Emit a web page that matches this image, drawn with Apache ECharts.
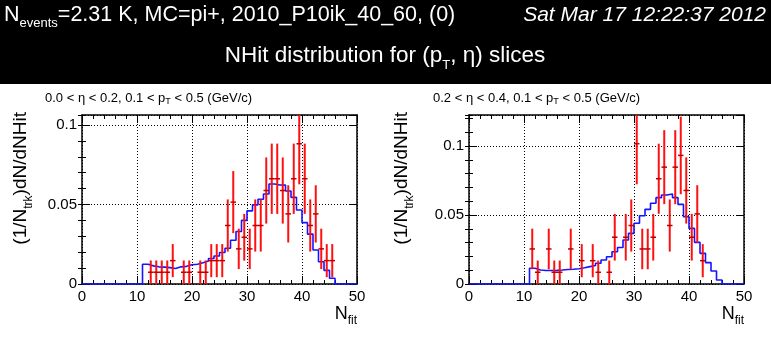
<!DOCTYPE html>
<html>
<head>
<meta charset="utf-8">
<script src="https://cdn.jsdelivr.net/npm/echarts@6/dist/echarts.min.js"></script>
<style>
  html, body { margin: 0; padding: 0; background: #fff; }
  #chart { width: 771px; height: 344px; }
</style>
</head>
<body>
<div id="chart"></div>
<script>
// N_fit bin edges (1 hit per bin)
const nfitEdges = [0,1,2,3,4,5,6,7,8,9,10,11,12,13,14,15,16,17,18,19,20,21,22,23,24,25,
  26,27,28,29,30,31,32,33,34,35,36,37,38,39,40,41,42,43,44,45,46,47,48,49,50];

// MC reference histograms, one value per bin (0..49)
const mcLeft = [0,0,0,0,0,0,0,0,0,0,0,
  0.0124,0.0114,0.0108,0.0106,0.0103,0.0098,0.0108,0.0111,0.0121,0.0124,
  0.0134,0.0145,0.0160,0.0176,0.0198,0.0225,0.0275,0.0330,0.0400,0.0460,
  0.0498,0.0533,0.0566,0.0629,0.0623,0.0622,0.0585,0.0545,0.0465,0.0386,
  0.0314,0.0214,0.0140,0.0086,0.0036,0,0,0,0];
const mcRight = [0,0,0,0,0,0,0,0,0,0,0,
  0.0114,0.0101,0.0098,0.0098,0.0099,0.0101,0.0105,0.0107,0.0111,0.0118,
  0.0126,0.0134,0.0150,0.0174,0.0198,0.0234,0.0265,0.0319,0.0367,0.0440,
  0.0495,0.0541,0.0585,0.0626,0.0645,0.0652,0.0626,0.0577,0.0488,0.0403,
  0.0302,0.0222,0.0155,0.0094,0.0029,0,0,0,0];

// Data points: bin index, normalised value, statistical error
const dataLeftBin = [12,13,14,15,16,18,19,21,22,23,24,25,26,27,28,29,30,31,32,33,34,35,36,37,38,39,40,41,42,43,44,45];
const dataLeftVal = [0.0074,0.0074,0.0074,0.0074,0.0147,0.0074,0.0074,0.0074,0.0074,0.0147,0.0147,0.0147,
  0.0368,0.0515,0.0221,0.0294,0.0221,0.0368,0.0368,0.0588,0.0662,0.0662,0.0588,0.0441,0.0662,0.0882,
  0.0662,0.0368,0.0441,0.0221,0.0147,0.0147];
const dataLeftErr = [0.0074,0.0074,0.0074,0.0074,0.0104,0.0074,0.0074,0.0074,0.0074,0.0104,0.0104,0.0104,
  0.0164,0.0195,0.0127,0.0147,0.0127,0.0164,0.0164,0.0208,0.0221,0.0221,0.0208,0.0180,0.0221,0.0255,
  0.0221,0.0164,0.0180,0.0127,0.0104,0.0104];

const dataRightBin = [11,12,14,15,16,18,20,22,23,25,26,28,29,30,31,32,33,34,35,36,37,38,39,40,41,42];
const dataRightVal = [0.0254,0.0085,0.0254,0.0085,0.0085,0.0254,0.0169,0.0169,0.0085,0.0085,0.0339,0.0339,
  0.0424,0.1017,0.0254,0.0254,0.0339,0.0763,0.0847,0.0424,0.0847,0.0932,0.0678,0.0339,0.0508,0.0169];
const dataRightErr = [0.0147,0.0085,0.0147,0.0085,0.0085,0.0147,0.0120,0.0120,0.0085,0.0085,0.0169,0.0169,
  0.0189,0.0294,0.0147,0.0147,0.0169,0.0254,0.0268,0.0189,0.0268,0.0281,0.0240,0.0169,0.0208,0.0120];

// Axis ranges
const xRange = [0, 50];
const yMaxLeft = 0.1063;
const yMaxRight = 0.1225;

const FONT = '"Liberation Sans", Arial, Helvetica, sans-serif';

const chart = echarts.init(document.getElementById('chart'), null, { renderer: 'canvas' });

const panels = [
  { left: 82, top: 115, width: 275, height: 169, ymax: yMaxLeft, mc: mcLeft,
    bins: dataLeftBin, vals: dataLeftVal, errs: dataLeftErr },
  { left: 469, top: 115, width: 275, height: 169, ymax: yMaxRight, mc: mcRight,
    bins: dataRightBin, vals: dataRightVal, errs: dataRightErr }
];

const grids = [], xAxes = [], yAxes = [], series = [];
const black = '#000';

panels.forEach((p, gi) => {
  grids.push({ left: p.left, top: p.top, width: p.width, height: p.height, show: false });

  const frameLine = { show: true, onZero: false, lineStyle: { color: black, width: 1.5 } };
  const xBase = { gridIndex: gi, type: 'value', min: xRange[0], max: xRange[1], interval: 10 };
  const xMain = xAxes.length;
  xAxes.push(Object.assign({}, xBase, {
    position: 'bottom', axisLine: frameLine,
    axisTick: { inside: true, length: 8, lineStyle: { color: black, width: 1 } },
    minorTick: { show: true, splitNumber: 5, length: 4, lineStyle: { color: black, width: 1 } },
    axisLabel: { color: black, fontSize: 15, fontFamily: FONT, margin: 5 },
    splitLine: { show: true, lineStyle: { color: black, width: 1, type: [1, 2] } }
  }));
  xAxes.push(Object.assign({}, xBase, {
    position: 'top', axisLine: frameLine,
    axisTick: { inside: true, length: 8, lineStyle: { color: black, width: 1 } },
    minorTick: { show: true, splitNumber: 5, length: 4, lineStyle: { color: black, width: 1 } },
    axisLabel: { show: false }, splitLine: { show: false }
  }));

  const yBase = { gridIndex: gi, type: 'value', min: 0, max: p.ymax };
  const yMain = yAxes.length;
  // major ticks + labels + grid, left
  yAxes.push(Object.assign({}, yBase, {
    position: 'left', interval: 0.05, axisLine: frameLine,
    axisTick: { inside: true, length: 8, lineStyle: { color: black, width: 1 } },
    axisLabel: { color: black, fontSize: 15, fontFamily: FONT, margin: 5, showMaxLabel: false },
    splitLine: { show: true, lineStyle: { color: black, width: 1, type: [1, 2] } }
  }));
  // minor ticks, left
  yAxes.push(Object.assign({}, yBase, {
    position: 'left', interval: 0.01, axisLine: { show: false },
    axisTick: { inside: true, length: 4, lineStyle: { color: black, width: 1 } },
    axisLabel: { show: false }, splitLine: { show: false }
  }));
  // major / minor ticks, right
  yAxes.push(Object.assign({}, yBase, {
    position: 'right', interval: 0.05, axisLine: frameLine,
    axisTick: { inside: true, length: 8, lineStyle: { color: black, width: 1 } },
    axisLabel: { show: false }, splitLine: { show: false }
  }));
  yAxes.push(Object.assign({}, yBase, {
    position: 'right', interval: 0.01, axisLine: { show: false },
    axisTick: { inside: true, length: 4, lineStyle: { color: black, width: 1 } },
    axisLabel: { show: false }, splitLine: { show: false }
  }));

  // MC histogram as a step line over the bin edges
  const stepData = nfitEdges.map((e, i) => [e, p.mc[Math.min(i, p.mc.length - 1)]]);
  series.push({
    type: 'line', xAxisIndex: xMain, yAxisIndex: yMain, data: stepData,
    step: 'end', symbol: 'none', clip: true, silent: true, z: 3,
    lineStyle: { color: '#1414ff', width: 1.6 }
  });

  // Data points with error bars
  const ymax = p.ymax;
  series.push({
    type: 'custom', xAxisIndex: xMain, yAxisIndex: yMain, clip: true, silent: true, z: 4,
    data: p.bins.map((b, i) => [b, p.vals[i], p.errs[i]]),
    encode: { x: 0, y: 1 },
    renderItem: function (params, api) {
      const b = api.value(0), v = api.value(1), e = api.value(2);
      const lo = Math.max(0, v - e), hi = Math.min(ymax, v + e);
      const pLo = api.coord([b + 0.5, lo]);
      const pHi = api.coord([b + 0.5, hi]);
      const hL = api.coord([b, v]);
      const hR = api.coord([b + 1, v]);
      return {
        type: 'group',
        children: [
          { type: 'line', shape: { x1: pLo[0], y1: pLo[1], x2: pHi[0], y2: pHi[1] },
            style: { stroke: '#ff1010', lineWidth: 2 } },
          { type: 'line', shape: { x1: hL[0], y1: hL[1], x2: hR[0], y2: hR[1] },
            style: { stroke: '#c00000', lineWidth: 1.5 } }
        ]
      };
    }
  });
});

// rich text with a subscript fragment
const subRich = (size, sub, lh, col) => ({
  n: { fontSize: size, fontFamily: FONT, fill: col, lineHeight: lh, verticalAlign: 'middle' },
  s: { fontSize: sub, fontFamily: FONT, fill: col, lineHeight: Math.round(sub * 1.1), verticalAlign: 'bottom' }
});

const graphic = [
  { type: 'rect', shape: { x: 0, y: 0, width: 771, height: 84 }, style: { fill: '#000' }, silent: true },
  { type: 'text', x: 4, y: 15, silent: true,
    style: { text: '{n|N}{s|events}{n|=2.31 K, MC=pi+, 2010_P10ik_40_60, (0)}',
      rich: subRich(21.5, 13, 30, '#fff'), align: 'left', verticalAlign: 'middle' } },
  { type: 'text', x: 766, y: 15, silent: true,
    style: { text: 'Sat Mar 17 12:22:37 2012', fill: '#fff', fontSize: 21, fontStyle: 'italic',
      fontFamily: FONT, align: 'right', verticalAlign: 'middle' } },
  { type: 'text', x: 385, y: 56, silent: true,
    style: { text: '{n|NHit distribution for (p}{s|T}{n|, \u03b7) slices}',
      rich: subRich(22.5, 13, 32, '#fff'), align: 'center', verticalAlign: 'middle' } },
  // panel captions
  { type: 'text', x: 45, y: 98, silent: true,
    style: { text: '{n|0.0 < \u03b7 < 0.2, 0.1 < p}{s|T}{n| < 0.5 (GeV/c)}',
      rich: subRich(13, 9, 17, black), align: 'left', verticalAlign: 'middle' } },
  { type: 'text', x: 433, y: 98, silent: true,
    style: { text: '{n|0.2 < \u03b7 < 0.4, 0.1 < p}{s|T}{n| < 0.5 (GeV/c)}',
      rich: subRich(13, 9, 17, black), align: 'left', verticalAlign: 'middle' } },
  // y-axis titles
  { type: 'text', x: 21, y: 112, rotation: Math.PI / 2, silent: true,
    style: { text: '{n|(1/N}{s|trk}{n|)dN/dNHit}', rich: subRich(19, 12, 28, black),
      align: 'right', verticalAlign: 'middle' } },
  { type: 'text', x: 402, y: 112, rotation: Math.PI / 2, silent: true,
    style: { text: '{n|(1/N}{s|trk}{n|)dN/dNHit}', rich: subRich(19, 12, 28, black),
      align: 'right', verticalAlign: 'middle' } },
  // x-axis titles
  { type: 'text', x: 357, y: 314, silent: true,
    style: { text: '{n|N}{s|fit}', rich: subRich(18, 12, 26, black), align: 'right', verticalAlign: 'middle' } },
  { type: 'text', x: 744, y: 314, silent: true,
    style: { text: '{n|N}{s|fit}', rich: subRich(18, 12, 26, black), align: 'right', verticalAlign: 'middle' } }
];

chart.setOption({
  animation: false,
  backgroundColor: '#fff',
  grid: grids,
  xAxis: xAxes,
  yAxis: yAxes,
  series: series,
  graphic: graphic
});
</script>
</body>
</html>
